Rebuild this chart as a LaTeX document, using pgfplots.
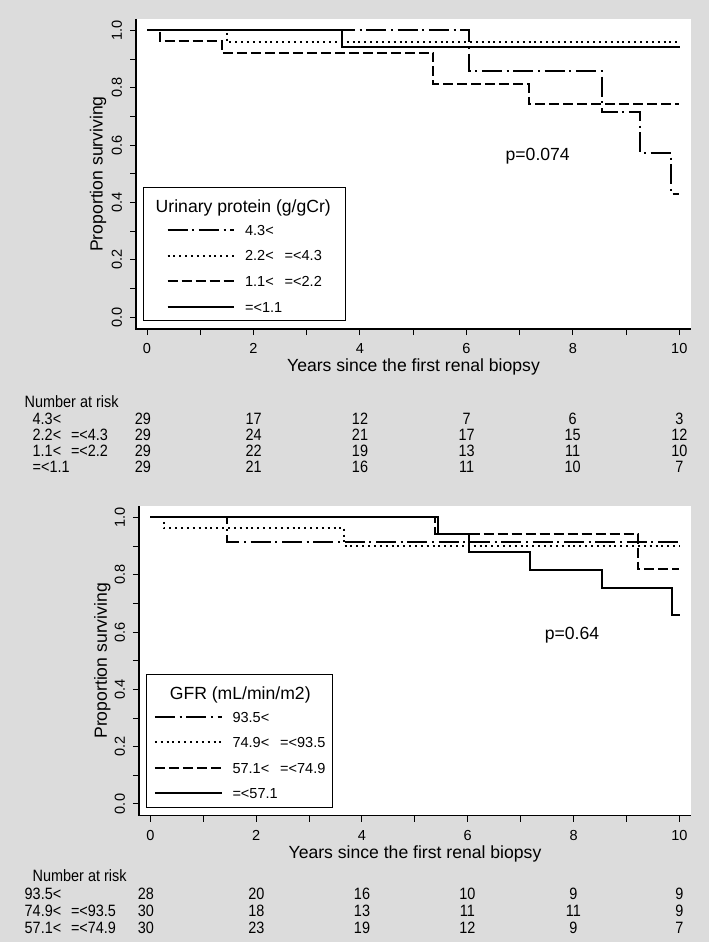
\documentclass[border=0pt]{standalone}
\usepackage{pgfplots}
\pgfplotsset{compat=1.18}
\usepackage{fontspec}
\setmainfont{Liberation Sans}
\newfontfamily\narrowfont[FakeStretch=0.88]{Liberation Sans}
\definecolor{bg}{RGB}{220,220,220}
\newcommand\Lfont{\fontsize{13.2pt}{15pt}\selectfont}
\newcommand\Sfont{\fontsize{10.9pt}{13pt}\selectfont}
\newcommand\Tfont{\narrowfont\fontsize{12.3pt}{14pt}\selectfont}

\tikzset{
  kmdd/.style={black, line width=1.5pt, dash pattern=on 15pt off 3.5pt on 1.5pt off 3.5pt},
  kmdot/.style={black, line width=1.5pt, dash pattern=on 1.5pt off 2.9pt},
  kmdash/.style={black, line width=1.5pt, dash pattern=on 7.5pt off 3pt},
  kmsolid/.style={black, line width=1.5pt, solid},
}

\pgfplotsset{
  km/.style={
    scale only axis, anchor=north west, clip=false,
    axis line style={draw=none},
    axis background/.style={fill=white},
    tick pos=left, tick align=outside,
    major tick length=4.5pt, minor tick length=4.5pt,
    tick style={black, line width=0.75pt},
    xtick={0,2,4,6,8,10}, minor xtick={1,3,5,7,9},
    ytick={0,0.2,0.4,0.6,0.8,1}, minor ytick={0.1,0.3,0.5,0.7,0.9},
    /pgf/number format/assume math mode=true,
    ticklabel style={font=\Sfont, inner sep=0pt},
    xticklabel style={anchor=north},
    xticklabel shift=6pt, yticklabel shift=5.8pt,
    yticklabel style={rotate=90, anchor=south, /pgf/number format/.cd, fixed, fixed zerofill, precision=1},
    xlabel={Years since the first renal biopsy},
    ylabel={Proportion surviving},
    label style={font=\Lfont},
    xlabel style={at={(axis description cs:0.5,-0.137)}, anchor=base},
    ymin=-0.041, ymax=1.04,
    after end axis/.code={\draw[line width=0.9pt, black] (rel axis cs:0,1) -- (rel axis cs:0,0) -- (rel axis cs:1,0);},
  },
}

\newcommand\riskrowT[8]{%
  \node[anchor=mid west, font=\Tfont] at (28,#1) {#2};
  \node[anchor=mid, font=\Tfont] at (143,#1) {#3};
  \node[anchor=mid, font=\Tfont] at (253.7,#1) {#4};
  \node[anchor=mid, font=\Tfont] at (360,#1) {#5};
  \node[anchor=mid, font=\Tfont] at (466.7,#1) {#6};
  \node[anchor=mid, font=\Tfont] at (572.7,#1) {#7};
  \node[anchor=mid, font=\Tfont] at (679.3,#1) {#8};
}
\newcommand\riskrowB[8]{%
  \node[anchor=mid west, font=\Tfont] at (20,#1) {#2};
  \node[anchor=mid, font=\Tfont] at (146,#1) {#3};
  \node[anchor=mid, font=\Tfont] at (256.3,#1) {#4};
  \node[anchor=mid, font=\Tfont] at (362,#1) {#5};
  \node[anchor=mid, font=\Tfont] at (467.3,#1) {#6};
  \node[anchor=mid, font=\Tfont] at (573.3,#1) {#7};
  \node[anchor=mid, font=\Tfont] at (679.3,#1) {#8};
}

\begin{document}
\begin{tikzpicture}
\begin{scope}[x=0.75pt,y=-0.75pt]
  \fill[bg] (0,0) rectangle (709,942);
\end{scope}

% ---------------- Top panel ----------------
\begin{axis}[km,
  at={(102pt,-14.25pt)},
  width=416.25pt, height=232.5pt,
  xmin=-0.2067, xmax=10.22,
  ylabel style={at={(axis description cs:-0.06,0.5)}, rotate=0, anchor=base},
  legend image code/.code={\draw[#1] (0pt,4pt) -- (49.5pt,4pt);},
  legend style={at={(axis description cs:0.0121,0.457)}, anchor=north west,
    draw=black, line width=0.75pt, fill=white, font=\Sfont,
    inner xsep=17.5pt, inner ysep=3.4pt, row sep=3.2pt, column sep=7.9pt,
    nodes={inner sep=0pt, text height=13pt, text depth=3pt, anchor=base west}},
]
\addlegendimage{empty legend}
\addlegendentry{\hspace*{-67pt}\raisebox{-2.2pt}{\Lfont Urinary protein (g/gCr)}\hspace*{-7.3pt}}
\addplot[kmdd, const plot] coordinates {(0,1) (6.04,0.857) (8.55,0.714) (9.27,0.571) (9.85,0.429) (10.0,0.429)};
\addlegendentry{4.3<}
\addplot[kmdot, const plot] coordinates {(0,1) (1.50,0.960) (9.95,0.960)};
\addlegendentry{2.2<\hspace{0.75em}=<4.3}
\addplot[kmdash, const plot] coordinates {(0,1) (0.24,0.964) (1.40,0.923) (5.38,0.812) (7.17,0.742) (10.0,0.742)};
\addlegendentry{1.1<\hspace{0.75em}=<2.2}
\addplot[kmsolid, const plot] coordinates {(0,1) (3.67,0.943) (10.02,0.943)};
\addlegendentry{=<1.1}
\node[font=\Lfont] at (axis cs:7.34,0.56) {p=0.074};
\end{axis}

% ---------------- Bottom panel ----------------
\begin{axis}[km,
  at={(104.25pt,-379.5pt)},
  width=414pt, height=232.3pt,
  xmin=-0.214, xmax=10.22,
  ylabel style={at={(axis description cs:-0.058,0.5)}, rotate=0, anchor=base},
  legend image code/.code={\draw[#1] (0pt,4pt) -- (50pt,4pt);},
  legend style={at={(axis description cs:0.0127,0.4575)}, anchor=north west,
    draw=black, line width=0.75pt, fill=white, font=\Sfont,
    inner xsep=5.5pt, inner ysep=3.4pt, row sep=3.2pt, column sep=7.5pt,
    nodes={inner sep=0pt, text height=13pt, text depth=3pt, anchor=base west}},
]
\addlegendimage{empty legend}
\addlegendentry{\hspace*{-47pt}\raisebox{-2.2pt}{\Lfont GFR (mL/min/m2)}}
\addplot[kmdd, const plot] coordinates {(0,1) (1.44,0.913) (10.0,0.913)};
\addlegendentry{93.5<}
\addplot[kmdot, const plot] coordinates {(0,1) (0.25,0.964) (3.67,0.900) (10.0,0.900)};
\addlegendentry{74.9<\hspace{0.75em}=<93.5}
\addplot[kmdash, const plot] coordinates {(0,1) (5.38,0.942) (9.22,0.819) (10.0,0.819)};
\addlegendentry{57.1<\hspace{0.75em}=<74.9}
\addplot[kmsolid, const plot] coordinates {(0,1) (5.43,0.942) (6.03,0.880) (7.18,0.816) (8.54,0.753) (9.86,0.660) (10.02,0.660)};
\addlegendentry{=<57.1}
\node[font=\Lfont] at (axis cs:7.97,0.59) {p=0.64};
\end{axis}

% ---------------- Number at risk tables ----------------
\begin{scope}[x=0.75pt,y=-0.75pt]
  \node[anchor=mid west, font=\Tfont] at (20,404) {Number at risk};
  \riskrowT{421}{4.3<}{29}{17}{12}{7}{6}{3}
  \riskrowT{437}{2.2<\hspace{0.6em}=<4.3}{29}{24}{21}{17}{15}{12}
  \riskrowT{453}{1.1<\hspace{0.6em}=<2.2}{29}{22}{19}{13}{11}{10}
  \riskrowT{469}{=<1.1}{29}{21}{16}{11}{10}{7}
  \node[anchor=mid west, font=\Tfont] at (28,878) {Number at risk};
  \riskrowB{896}{93.5<}{28}{20}{16}{10}{9}{9}
  \riskrowB{913}{74.9<\hspace{0.6em}=<93.5}{30}{18}{13}{11}{11}{9}
  \riskrowB{930}{57.1<\hspace{0.6em}=<74.9}{30}{23}{19}{12}{9}{7}
\end{scope}
\end{tikzpicture}
\end{document}
